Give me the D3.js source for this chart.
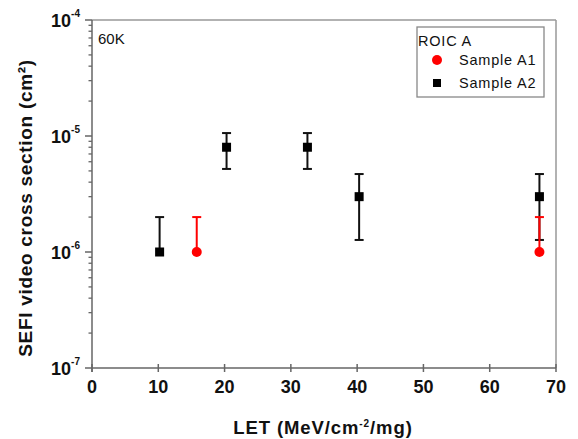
<!DOCTYPE html>
<html><head><meta charset="utf-8">
<script src="https://cdn.jsdelivr.net/npm/d3@7"></script>
<style>body{margin:0;background:#fff}svg{display:block}text{font-family:Arial,"Liberation Sans",sans-serif}</style>
</head><body><svg id="c" width="578" height="439"></svg>
<script>
const xTicks=[0,10,20,30,40,50,60,70];
const yDecades=[-7,-6,-5,-4];
const a2X=[10.2,20.3,32.5,40.3,67.5];
const a2Y=[1e-6,8e-6,8e-6,3e-6,3e-6];
const a2Lo=[1e-6,5.2e-6,5.2e-6,1.27e-6,1.27e-6];
const a2Hi=[2e-6,1.06e-5,1.06e-5,4.7e-6,4.7e-6];
const a1X=[15.8,67.5];
const a1Y=[1e-6,1e-6];
const a1Lo=[1e-6,1e-6];
const a1Hi=[2e-6,2e-6];

const svg=d3.select("#c");
const L=92,R=556,T=20,B=368;
const x=d3.scaleLinear().domain([0,70]).range([L,R]);
const y=d3.scaleLog().domain([1e-7,1e-4]).range([B,T]);
const axisCol="#666";

// frame top/right
svg.append("line").attr("x1",L).attr("x2",R).attr("y1",T).attr("y2",T).attr("stroke","#999").attr("stroke-width",1.5);
svg.append("line").attr("x1",R).attr("x2",R).attr("y1",T).attr("y2",B).attr("stroke","#999").attr("stroke-width",1.5);

// x axis
const gx=svg.append("g").attr("transform",`translate(0,${B})`);
gx.append("line").attr("x1",L).attr("x2",R).attr("stroke",axisCol).attr("stroke-width",1.5);
xTicks.forEach(t=>{
  gx.append("line").attr("x1",x(t)).attr("x2",x(t)).attr("y1",-4).attr("y2",4).attr("stroke",axisCol).attr("stroke-width",1.5);
  gx.append("text").attr("x",x(t)).attr("y",25).attr("text-anchor","middle").attr("font-size",18).attr("font-weight","bold").attr("fill","#111").text(t);
});

// y axis
const gy=svg.append("g");
gy.append("line").attr("x1",L).attr("x2",L).attr("y1",T).attr("y2",B+4).attr("stroke",axisCol).attr("stroke-width",1.5);
yDecades.forEach(d=>{
  const v=Math.pow(10,d);
  gy.append("line").attr("x1",L-7).attr("x2",L).attr("y1",y(v)).attr("y2",y(v)).attr("stroke",axisCol).attr("stroke-width",1.5);
  const tx=gy.append("text").attr("x",L-12).attr("y",y(v)+7).attr("text-anchor","end").attr("font-size",18).attr("font-weight","bold").attr("fill","#111");
  tx.append("tspan").text("10");
  tx.append("tspan").attr("dy",-10).attr("font-size",10).text(String(d));
  if(d<-4){
    for(let m=2;m<=9;m++){
      const vv=m*v;
      gy.append("line").attr("x1",L-3.5).attr("x2",L).attr("y1",y(vv)).attr("y2",y(vv)).attr("stroke",axisCol).attr("stroke-width",1.3);
    }
  }
});

// axis labels
svg.append("text").attr("x",323).attr("y",434).attr("text-anchor","middle").attr("font-size",18.5).attr("font-weight","bold").attr("letter-spacing",0.9).attr("fill","#111")
  .call(t=>{t.append("tspan").text("LET (MeV/cm");t.append("tspan").attr("dy",-7).attr("font-size",10).text("-2");t.append("tspan").attr("dy",7).text("/mg)");});
svg.append("text").attr("transform",`translate(32,208) rotate(-90)`).attr("text-anchor","middle").attr("font-size",19).attr("font-weight","bold").attr("letter-spacing",0.7).attr("fill","#111").text("SEFI video cross section (cm²)");

// 60K
svg.append("text").attr("x",98).attr("y",44).attr("font-size",15).attr("fill","#111").text("60K");

// error bars
function bars(xs,ys,lo,hi,col){
  const g=svg.append("g").attr("stroke",col).attr("stroke-width",2);
  xs.forEach((xv,i)=>{
    g.append("line").attr("x1",x(xv)).attr("x2",x(xv)).attr("y1",y(hi[i])).attr("y2",y(lo[i]));
    g.append("line").attr("x1",x(xv)-4.5).attr("x2",x(xv)+4.5).attr("y1",y(hi[i])).attr("y2",y(hi[i]));
    if(lo[i]<ys[i]) g.append("line").attr("x1",x(xv)-4.5).attr("x2",x(xv)+4.5).attr("y1",y(lo[i])).attr("y2",y(lo[i]));
  });
}
bars(a2X,a2Y,a2Lo,a2Hi,"#111");
bars(a1X,a1Y,a1Lo,a1Hi,"#f00");
svg.append("g").selectAll("rect").data(a2X).join("rect")
  .attr("x",(d)=>x(d)-4.5).attr("y",(d,i)=>y(a2Y[i])-4.5).attr("width",9).attr("height",9).attr("fill","#000");
svg.append("g").selectAll("circle").data(a1X).join("circle")
  .attr("cx",d=>x(d)).attr("cy",(d,i)=>y(a1Y[i])).attr("r",5).attr("fill","#f00");

// legend
const lg=svg.append("g");
lg.append("rect").attr("x",417).attr("y",27).attr("width",127).attr("height",70).attr("fill","#fff").attr("stroke","#888").attr("stroke-width",1.3);
lg.append("text").attr("x",418).attr("y",46).attr("font-size",14.5).attr("letter-spacing",0.8).attr("fill","#111").text("ROIC A");
lg.append("circle").attr("cx",437).attr("cy",60).attr("r",5).attr("fill","#f00");
lg.append("text").attr("x",459).attr("y",65).attr("font-size",14.5).attr("letter-spacing",0.8).attr("fill","#111").text("Sample A1");
lg.append("rect").attr("x",433).attr("y",79).attr("width",8).attr("height",8).attr("fill","#000");
lg.append("text").attr("x",459).attr("y",88).attr("font-size",14.5).attr("letter-spacing",0.8).attr("fill","#111").text("Sample A2");
</script></body></html>
